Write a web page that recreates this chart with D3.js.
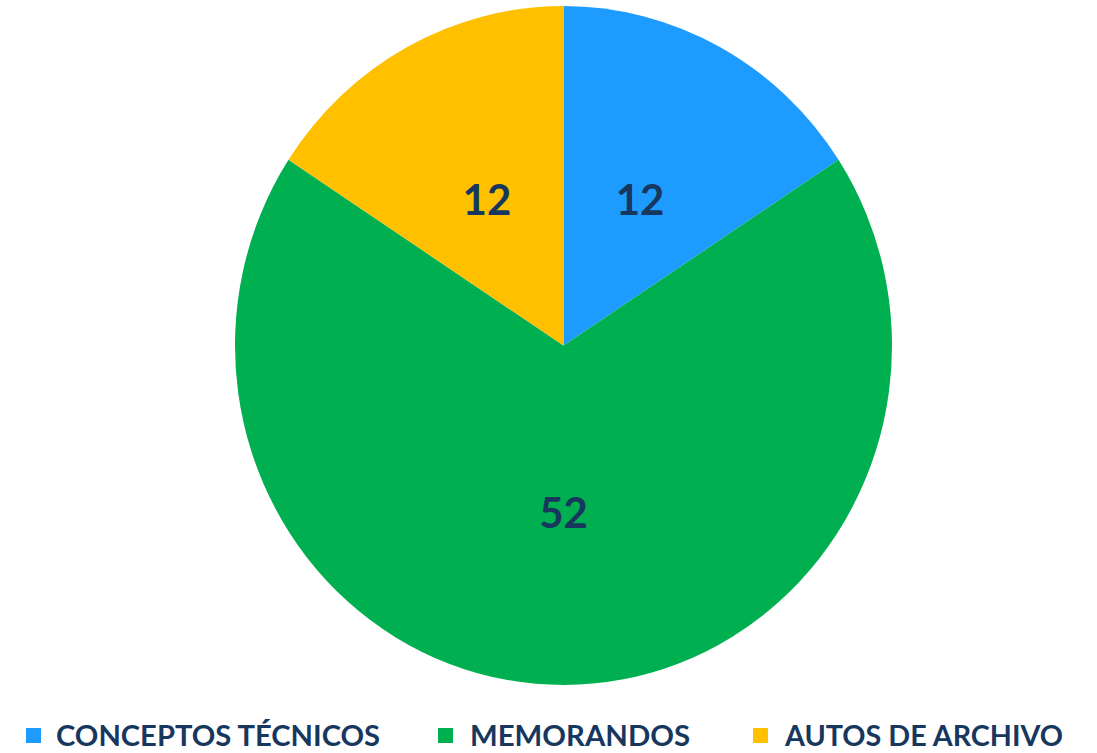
<!DOCTYPE html>
<html>
<head>
<meta charset="utf-8">
<script src="https://cdn.jsdelivr.net/npm/d3@7"></script>
<style>
  html, body { margin: 0; padding: 0; background: #ffffff; }
  svg { display: block; }
</style>
</head>
<body>
<svg id="chart" width="1097" height="753"></svg>
<script>
const categories = ["CONCEPTOS TÉCNICOS", "MEMORANDOS", "AUTOS DE ARCHIVO"];
const values = [12, 52, 12];
const colors = ["#1E9BFF", "#00B050", "#FFC000"];

const W = 1097, H = 753;
const cx = 563.5, cy = 345.5;
const rx = 328.5, ry = 339.5;
const textColor = "#17375E";

const svg = d3.select("#chart");

const data = categories.map((c, i) => ({ name: c, value: values[i], color: colors[i] }));
const pie = d3.pie().sort(null).value(d => d.value);
const arcs = pie(data);
const arc = d3.arc().innerRadius(0).outerRadius(rx);
const labelArc = d3.arc().innerRadius(rx * 0.49).outerRadius(rx * 0.49);

const g = svg.append("g")
  .attr("transform", `translate(${cx},${cy}) scale(1,${ry / rx})`);

g.selectAll("path")
  .data(arcs)
  .join("path")
  .attr("d", arc)
  .attr("fill", d => d.data.color);

svg.append("g")
  .selectAll("text")
  .data(arcs)
  .join("text")
  .attr("x", d => cx + labelArc.centroid(d)[0])
  .attr("y", d => cy + labelArc.centroid(d)[1] * ry / rx)
  .attr("text-anchor", "middle")
  .attr("dominant-baseline", "central")
  .attr("font-family", "Lato, 'Open Sans', sans-serif")
  .attr("font-weight", "bold")
  .attr("font-size", 42)
  .attr("fill", textColor)
  .text(d => d.data.value);

// Legend
const legendY = 735;
const legendItems = [
  { sq: 26, tx: 56, w: 324 },
  { sq: 438, tx: 470, w: 220 },
  { sq: 753, tx: 785, w: 278 }
];
const leg = svg.append("g");
data.forEach((d, i) => {
  const it = legendItems[i];
  leg.append("rect")
    .attr("x", it.sq).attr("y", legendY - 7)
    .attr("width", 15).attr("height", 15)
    .attr("fill", d.color);
  leg.append("text")
    .attr("x", it.tx).attr("y", legendY)
    .attr("dominant-baseline", "central")
    .attr("font-family", "Lato, 'Open Sans', sans-serif")
    .attr("font-weight", "bold")
    .attr("font-size", 28)
    .attr("fill", textColor)
    .attr("textLength", it.w)
    .attr("lengthAdjust", "spacingAndGlyphs")
    .text(d.name);
});
</script>
</body>
</html>
